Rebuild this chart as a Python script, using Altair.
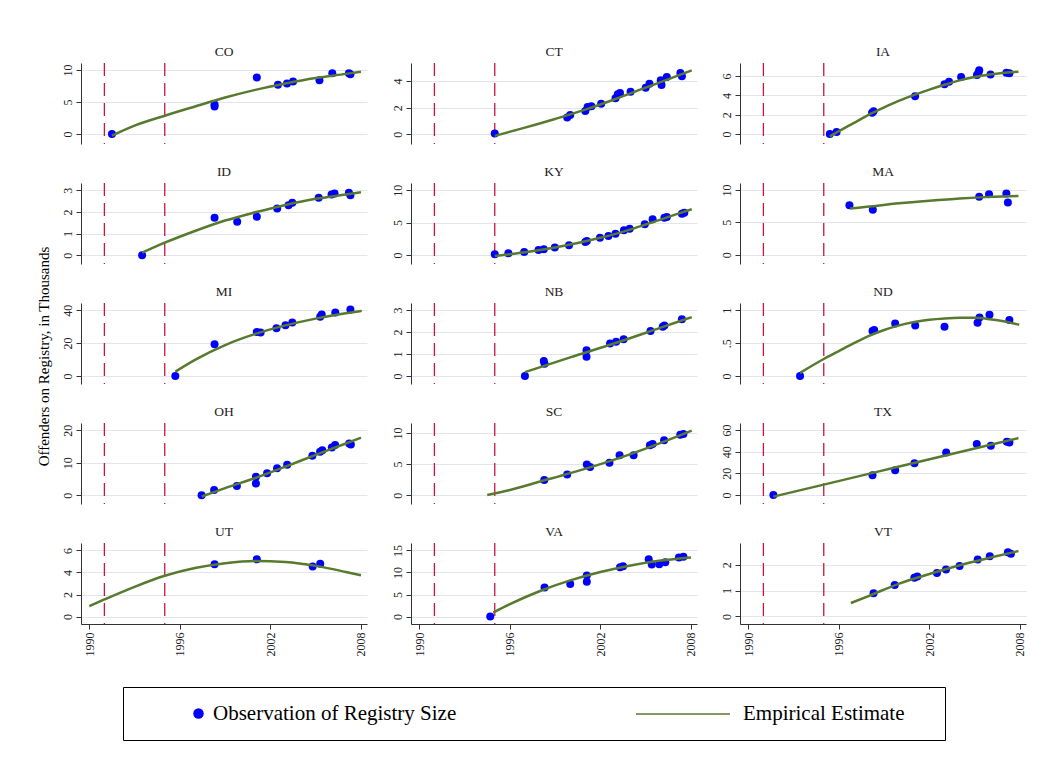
import altair as alt
import pandas as pd

FONT = "Liberation Serif"
BLUE = "#0000FF"
GREEN = "#577A2E"
RED = "#C8163E"
GRID = "#E1E6EE"

Y_TITLE = "Offenders on Registry, in Thousands"
OBS_LABEL = "Observation of Registry Size"
FIT_LABEL = "Empirical Estimate"

states = ["CO", "CT", "IA", "ID", "KY", "MA", "MI", "NB", "ND", "OH", "SC", "TX", "UT", "VA", "VT"]
policy_years = [1991, 1995]
x_ticks = [1990, 1996, 2002, 2008]
x_range = [1989.45, 2008.4]

# ---- CO
CO_obs_year = [1991.5, 1998.3, 1998.3, 2001.1, 2002.5, 2003.1, 2003.5, 2005.25, 2006.1, 2007.2, 2007.3]
CO_obs_val = [0.0, 4.6, 4.3, 8.85, 7.7, 7.9, 8.2, 8.4, 9.5, 9.5, 9.35]
CO_fit_year = [1991.5, 1993, 1995, 1997, 1999, 2001, 2003, 2005, 2007, 2008]
CO_fit_val = [-0.26, 1.3, 2.86, 4.3, 5.7, 6.9, 7.9, 8.75, 9.4, 9.74]
CO_ticks = [0, 5, 10]
CO_range = [-1.56, 11.1]

# ---- CT
CT_obs_year = [1995.0, 1999.8, 2000.0, 2001.0, 2001.15, 2001.4, 2002.05, 2003.0, 2003.15, 2003.3,
               2004.0, 2005.0, 2005.25, 2006.0, 2006.05, 2006.4, 2007.3, 2007.4]
CT_obs_val = [0.05, 1.25, 1.45, 1.75, 2.05, 2.1, 2.3, 2.7, 3.0, 3.1,
              3.2, 3.5, 3.8, 4.05, 3.7, 4.3, 4.6, 4.35]
CT_fit_year = [1995.0, 1997, 1999, 2001, 2003, 2005, 2007, 2008.05]
CT_fit_val = [-0.12, 0.5, 1.15, 1.85, 2.65, 3.5, 4.35, 4.8]
CT_ticks = [0, 2, 4]
CT_range = [-0.73, 5.35]

# ---- IA
IA_obs_year = [1995.4, 1995.85, 1998.2, 1998.3, 2001.05, 2003.0, 2003.3, 2004.1, 2005.15, 2005.25,
               2005.3, 2006.05, 2007.1, 2007.3]
IA_obs_val = [0.0, 0.2, 2.2, 2.35, 3.9, 5.15, 5.4, 5.9, 6.1, 6.35, 6.6, 6.15, 6.35, 6.28]
IA_fit_year = [1995.4, 1996, 1997, 1998, 1999, 2000, 2001, 2002, 2003, 2004, 2005, 2006, 2007, 2007.9]
IA_fit_val = [-0.24, 0.3, 1.15, 2.0, 2.75, 3.45, 4.05, 4.6, 5.1, 5.55, 5.9, 6.15, 6.35, 6.45]
IA_ticks = [0, 2, 4, 6]
IA_range = [-1.03, 7.35]

# ---- ID
ID_obs_year = [1993.5, 1998.3, 1999.8, 2001.1, 2002.45, 2003.2, 2003.45, 2005.2, 2006.05, 2006.25, 2007.2, 2007.3]
ID_obs_val = [0.0, 1.73, 1.55, 1.78, 2.16, 2.31, 2.42, 2.65, 2.8, 2.85, 2.88, 2.77]
ID_fit_year = [1993.5, 1995, 1997, 1999, 2001, 2003, 2005, 2007, 2008]
ID_fit_val = [0.12, 0.58, 1.12, 1.6, 1.98, 2.32, 2.6, 2.8, 2.9]
ID_ticks = [0, 1, 2, 3]
ID_range = [-0.4, 3.33]

# ---- KY
KY_obs_year = [1995.0, 1995.9, 1996.95, 1997.9, 1998.25, 1998.98, 1999.92, 2001.0, 2001.1, 2001.97,
               2002.53, 2003.0, 2003.56, 2003.94, 2004.94, 2005.46, 2006.24, 2006.4, 2007.4, 2007.56]
KY_obs_val = [0.1, 0.25, 0.45, 0.77, 0.87, 1.13, 1.49, 2.0, 2.15, 2.67,
              2.92, 3.28, 3.79, 4.05, 4.72, 5.49, 5.74, 5.85, 6.36, 6.51]
KY_fit_year = [1995.0, 1996, 1997, 1998, 1999, 2000, 2001, 2002, 2003, 2004, 2005, 2006, 2007, 2008.05]
KY_fit_val = [-0.15, 0.12, 0.4, 0.75, 1.15, 1.6, 2.1, 2.65, 3.25, 3.95, 4.7, 5.45, 6.25, 7.05]
KY_ticks = [0, 5, 10]
KY_range = [-1.4, 11.1]

# ---- MA
MA_obs_year = [1996.7, 1998.25, 2005.3, 2005.95, 2007.1, 2007.2]
MA_obs_val = [7.65, 6.94, 8.98, 9.34, 9.49, 8.06]
MA_fit_year = [1996.75, 1998, 2000, 2002, 2004, 2006, 2007.9]
MA_fit_val = [7.14, 7.45, 7.95, 8.35, 8.7, 8.95, 9.08]
MA_ticks = [0, 5, 10]
MA_range = [-1.45, 11.1]

# ---- MI
MI_obs_year = [1995.7, 1998.3, 2001.1, 2001.35, 2002.4, 2003.0, 2003.45, 2005.3, 2005.4, 2006.3, 2007.3]
MI_obs_val = [0.0, 19.3, 26.8, 26.4, 29.0, 30.9, 32.5, 36.0, 37.4, 38.6, 40.4]
MI_fit_year = [1995.7, 1997, 1999, 2001, 2003, 2005, 2007, 2008.05]
MI_fit_val = [2.6, 9.8, 18.8, 25.6, 30.8, 34.9, 38.1, 39.6]
MI_ticks = [0, 20, 40]
MI_range = [-4.9, 44.4]

# ---- NB
NB_obs_year = [1997.0, 1998.25, 1998.3, 2001.08, 2001.08, 2002.64, 2003.04, 2003.54, 2005.32, 2006.13, 2006.24, 2007.4]
NB_obs_val = [0.0, 0.68, 0.56, 1.17, 0.88, 1.48, 1.56, 1.67, 2.05, 2.24, 2.3, 2.58]
NB_fit_year = [1997.0, 2000, 2003, 2006, 2008.05]
NB_fit_val = [0.18, 0.85, 1.5, 2.2, 2.68]
NB_ticks = [0, 1, 2, 3]
NB_range = [-0.36, 3.32]

# ---- ND
ND_obs_year = [1993.43, 1998.23, 1998.34, 1999.73, 2001.06, 2003.0, 2005.19, 2005.32, 2005.98, 2007.3]
ND_obs_val = [0.0, 0.685, 0.70, 0.797, 0.77, 0.75, 0.81, 0.89, 0.93, 0.853]
ND_fit_year = [1993.43, 1995, 1996, 1997, 1998, 1999, 2000, 2001, 2002, 2003, 2004, 2005, 2006, 2007, 2007.95]
ND_fit_val = [0.05, 0.26, 0.38, 0.5, 0.61, 0.7, 0.77, 0.82, 0.855, 0.875, 0.885, 0.885, 0.865, 0.83, 0.78]
ND_ticks = [0, 0.5, 1]
ND_range = [-0.12, 1.11]

# ---- OH
OH_obs_year = [1997.44, 1998.27, 1999.78, 2001.04, 2001.04, 2001.78, 2002.44, 2003.11, 2004.78, 2005.29,
               2005.44, 2006.07, 2006.29, 2007.22, 2007.33]
OH_obs_val = [0.0, 1.64, 2.87, 5.64, 3.59, 6.77, 8.3, 9.33, 12.1, 13.4, 13.8, 14.7, 15.4, 15.9, 15.6]
OH_fit_year = [1997.44, 1999, 2001, 2003, 2005, 2007, 2008]
OH_fit_val = [-0.4, 2.2, 5.3, 8.8, 12.4, 15.9, 17.7]
OH_ticks = [0, 10, 20]
OH_range = [-2.7, 22.2]

# ---- SC
SC_obs_year = [1998.28, 1999.8, 2001.1, 2001.32, 2002.6, 2003.27, 2004.2, 2005.28, 2005.46, 2006.22, 2007.29, 2007.5]
SC_obs_val = [2.45, 3.35, 4.95, 4.52, 5.21, 6.44, 6.44, 8.03, 8.24, 8.83, 9.73, 9.84]
SC_fit_year = [1994.5, 1996, 1998, 2000, 2002, 2004, 2006, 2008.05]
SC_fit_val = [0.05, 0.85, 2.2, 3.55, 5.0, 6.6, 8.4, 10.37]
SC_ticks = [0, 5, 10]
SC_range = [-1.4, 11.6]

# ---- TX
TX_obs_year = [1991.66, 1998.23, 1999.73, 2001.01, 2003.11, 2005.14, 2006.07, 2007.13, 2007.3]
TX_obs_val = [0.0, 18.2, 22.9, 29.4, 39.3, 47.0, 45.5, 49.2, 48.6]
TX_fit_year = [1991.66, 1995, 2000, 2005, 2007.9]
TX_fit_val = [-1.5, 9.6, 26.3, 43.0, 52.6]
TX_ticks = [0, 20, 40, 60]
TX_range = [-8.3, 66.5]

# ---- UT
UT_obs_year = [1998.3, 2001.1, 2004.8, 2005.3]
UT_obs_val = [4.75, 5.2, 4.55, 4.8]
UT_fit_year = [1990.0, 1991, 1993, 1995, 1997, 1999, 2001, 2003, 2005, 2007, 2008]
UT_fit_val = [0.95, 1.55, 2.7, 3.7, 4.4, 4.85, 5.05, 4.95, 4.6, 4.05, 3.75]
UT_ticks = [0, 2, 4, 6]
UT_range = [-0.68, 6.68]

# ---- VA
VA_obs_year = [1994.7, 1998.3, 2000.0, 2001.1, 2001.1, 2003.3, 2003.5, 2005.2, 2005.4, 2005.9, 2006.3, 2007.2, 2007.5]
VA_obs_val = [0.0, 6.6, 7.4, 7.9, 9.3, 11.2, 11.4, 13.0, 11.8, 11.9, 12.3, 13.4, 13.6]
VA_fit_year = [1994.9, 1996, 1998, 2000, 2002, 2004, 2006, 2008]
VA_fit_val = [0.9, 2.8, 5.8, 8.2, 10.1, 11.6, 12.7, 13.4]
VA_ticks = [0, 5, 10, 15]
VA_range = [-1.7, 16.7]

# ---- VT
VT_obs_year = [1998.3, 1999.7, 2001.0, 2001.2, 2002.5, 2003.1, 2004.0, 2005.2, 2006.0, 2007.2, 2007.4]
VT_obs_val = [0.9, 1.22, 1.5, 1.55, 1.68, 1.82, 1.95, 2.2, 2.33, 2.48, 2.42]
VT_fit_year = [1996.8, 1998, 2000, 2002, 2004, 2006, 2007.9]
VT_fit_val = [0.52, 0.8, 1.27, 1.64, 1.98, 2.27, 2.53]
VT_ticks = [0, 1, 2]
VT_range = [-0.29, 2.84]

panels_data = {
    "CO": (CO_obs_year, CO_obs_val, CO_fit_year, CO_fit_val, CO_ticks, CO_range),
    "CT": (CT_obs_year, CT_obs_val, CT_fit_year, CT_fit_val, CT_ticks, CT_range),
    "IA": (IA_obs_year, IA_obs_val, IA_fit_year, IA_fit_val, IA_ticks, IA_range),
    "ID": (ID_obs_year, ID_obs_val, ID_fit_year, ID_fit_val, ID_ticks, ID_range),
    "KY": (KY_obs_year, KY_obs_val, KY_fit_year, KY_fit_val, KY_ticks, KY_range),
    "MA": (MA_obs_year, MA_obs_val, MA_fit_year, MA_fit_val, MA_ticks, MA_range),
    "MI": (MI_obs_year, MI_obs_val, MI_fit_year, MI_fit_val, MI_ticks, MI_range),
    "NB": (NB_obs_year, NB_obs_val, NB_fit_year, NB_fit_val, NB_ticks, NB_range),
    "ND": (ND_obs_year, ND_obs_val, ND_fit_year, ND_fit_val, ND_ticks, ND_range),
    "OH": (OH_obs_year, OH_obs_val, OH_fit_year, OH_fit_val, OH_ticks, OH_range),
    "SC": (SC_obs_year, SC_obs_val, SC_fit_year, SC_fit_val, SC_ticks, SC_range),
    "TX": (TX_obs_year, TX_obs_val, TX_fit_year, TX_fit_val, TX_ticks, TX_range),
    "UT": (UT_obs_year, UT_obs_val, UT_fit_year, UT_fit_val, UT_ticks, UT_range),
    "VA": (VA_obs_year, VA_obs_val, VA_fit_year, VA_fit_val, VA_ticks, VA_range),
    "VT": (VT_obs_year, VT_obs_val, VT_fit_year, VT_fit_val, VT_ticks, VT_range),
}

PANEL_W = 286
PANEL_H = 81

fill_legend = alt.Legend(
    orient="none", legendX=135, legendY=640, title=None, symbolType="circle",
    symbolSize=110, symbolStrokeWidth=0, labelFont=FONT, labelFontSize=21,
    labelOffset=4, labelColor="black", padding=0, labelLimit=0,
)
stroke_legend = alt.Legend(
    orient="none", legendX=582, legendY=603, title=None, symbolType="stroke",
    symbolSize=8836, symbolStrokeWidth=1.6, labelFont=FONT, labelFontSize=21,
    labelOffset=12, labelColor="black", padding=0, labelLimit=0,
)


def make_panel(state, idx):
    oy, ov, fy, fv, ticks, yr = panels_data[state]
    bottom = idx >= 12
    df_obs = pd.DataFrame({"year": oy, "value": ov, "series": OBS_LABEL})
    df_fit = pd.DataFrame({"year": fy, "value": fv, "series2": FIT_LABEL})
    df_pol = pd.DataFrame({"year": policy_years})

    xs = alt.Scale(domain=x_range, nice=False, zero=False)
    if bottom:
        xaxis = alt.Axis(values=x_ticks, format="d", labelAngle=270, grid=False, tickSize=5,
                         labelFontSize=12, labelPadding=3, domain=True, title=None,
                         labelColor="#222")
    else:
        xaxis = None
    ys = alt.Scale(domain=yr, nice=False, zero=False)
    label_expr = "datum.value == 0.5 ? '.5' : format(datum.value, 'd')"
    yaxis = alt.Axis(values=ticks, labelAngle=270, grid=True, gridColor=GRID, gridWidth=1.2,
                     tickSize=5, labelFontSize=12, labelPadding=2, title=None,
                     labelExpr=label_expr, labelColor="#222")

    x_enc = alt.X("year:Q", scale=xs, axis=xaxis)
    rules = alt.Chart(df_pol).mark_rule(color=RED, strokeDash=[13, 7], strokeWidth=1.3).encode(x=x_enc)
    pts = alt.Chart(df_obs).mark_point(filled=True, size=64, opacity=1).encode(
        x=x_enc,
        y=alt.Y("value:Q", scale=ys, axis=yaxis),
        fill=alt.Fill("series:N", scale=alt.Scale(domain=[OBS_LABEL], range=[BLUE]), legend=fill_legend),
    )
    line = alt.Chart(df_fit).mark_line(strokeWidth=2.5, interpolate="monotone").encode(
        x=x_enc,
        y=alt.Y("value:Q", scale=ys, axis=yaxis),
        stroke=alt.Stroke("series2:N", scale=alt.Scale(domain=[FIT_LABEL], range=[GREEN]), legend=stroke_legend),
    )
    return alt.layer(rules, pts, line).properties(
        width=PANEL_W, height=PANEL_H,
        title=alt.TitleParams(text=state, fontSize=13.5, font=FONT, fontWeight="normal",
                              offset=4, anchor="middle", color="#222"),
    )


panels = [make_panel(s, i) for i, s in enumerate(states)]
grid = alt.concat(*panels, columns=3, spacing={"row": 19, "column": 23}).resolve_scale(
    x="independent", y="independent")

ytitle = alt.Chart(pd.DataFrame({"t": [0]})).mark_point(opacity=0).encode(
    y=alt.Y("t:Q", axis=alt.Axis(title=Y_TITLE, labels=False, ticks=False, domain=False, grid=False,
                                 titleFontSize=15, titleFont=FONT, titleFontWeight="normal",
                                 titleColor="black", titlePadding=2))
).properties(width=1, height=586)

top = alt.hconcat(ytitle, grid, spacing=3).resolve_scale(x="independent", y="independent")

spacer = alt.Chart(pd.DataFrame({"sx": [0]})).mark_point(opacity=0).encode(
    x=alt.X("sx:Q", axis=None)
).properties(width=69, height=53)

frame = alt.Chart(pd.DataFrame({"fx": [0], "fy": [0]})).mark_point(opacity=0).encode(
    x=alt.X("fx:Q", axis=None), y=alt.Y("fy:Q", axis=None)
).properties(width=822, height=53, view=alt.ViewBackground(stroke="black", strokeWidth=1))

bottom_row = alt.hconcat(spacer, frame, spacing=0).resolve_scale(x="independent", y="independent")

chart = alt.vconcat(top, bottom_row, spacing=30).resolve_scale(
    x="independent", y="independent"
).properties(
    padding={"left": 28, "top": 36, "right": 5, "bottom": 5}, background="white"
).configure_view(stroke=None).configure_axis(
    labelFont=FONT, titleFont=FONT, domainColor="#333", tickColor="#333"
).configure_title(font=FONT)

chart.save("out.html", embed_options={"renderer": "svg", "actions": False})
